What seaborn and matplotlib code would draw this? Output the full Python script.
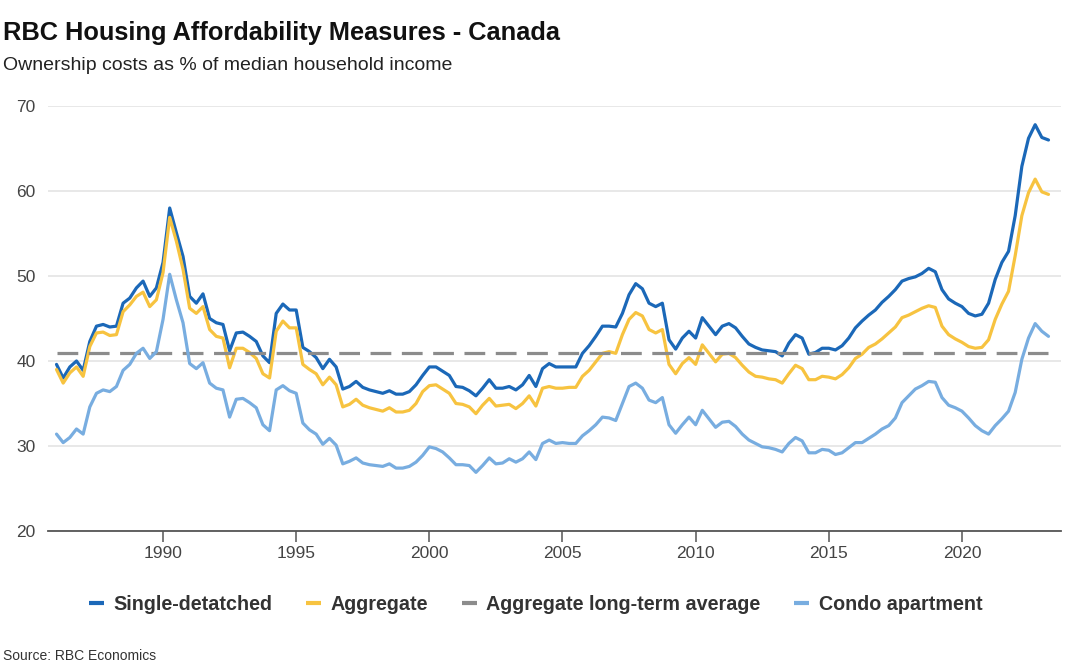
import numpy as np
import pandas as pd
import matplotlib
matplotlib.use("Agg")
import matplotlib.pyplot as plt
import seaborn as sns

# ---- data (quarterly, 1986Q1 - 2023Q2) ----
START_YEAR = 1986
single_detached = [
    39.6, 38.0, 39.3, 40.0, 38.9, 42.3, 44.1, 44.3, 44.0, 44.1, 46.8, 47.4, 48.6, 49.4, 47.6, 48.6,
    51.6, 58.0, 55.1, 52.3, 47.6, 46.8, 47.9, 45.0, 44.5, 44.3, 41.2, 43.3,
    43.4, 42.9, 42.3, 40.6, 39.8, 45.6, 46.7, 46.0, 46.0, 41.6, 41.1, 40.4, 39.1, 40.2, 39.3, 36.7,
    37.0, 37.6, 36.9, 36.6, 36.4, 36.2, 36.5, 36.1, 36.1, 36.4, 37.2, 38.3, 39.3, 39.3, 38.8,
    38.3, 37.0, 36.9, 36.5, 35.9, 36.8, 37.8, 36.8, 36.8, 37.0, 36.6, 37.2, 38.3, 37.0, 39.1, 39.7,
    39.3, 39.3, 39.3, 39.3, 40.9, 41.8, 42.9, 44.1, 44.1, 44.0, 45.6, 47.8, 49.1, 48.5,
    46.8, 46.4, 46.8, 42.5, 41.4, 42.7, 43.5, 42.7, 45.1, 44.1, 43.1, 44.1, 44.4, 43.9, 42.9, 42.0,
    41.6, 41.3, 41.2, 41.1, 40.6, 42.1, 43.1, 42.7, 40.8, 41.0, 41.5, 41.5, 41.3,
    41.8, 42.7, 43.9, 44.7, 45.4, 46.0, 46.9, 47.6, 48.4, 49.4, 49.7, 49.9, 50.3, 50.9, 50.5, 48.4,
    47.3, 46.8, 46.4, 45.6, 45.3, 45.5, 46.8, 49.6, 51.6, 52.9, 57.1, 62.9, 66.2, 67.8, 66.3, 66.0,
]
aggregate = [
    39.0, 37.4, 38.6, 39.3, 38.2, 41.7, 43.3, 43.4, 43.0, 43.1, 45.8, 46.6, 47.6, 48.1, 46.4, 47.2,
    50.4, 56.9, 54.1, 50.8, 46.2, 45.6, 46.4, 43.7, 42.9, 42.7, 39.2, 41.5,
    41.5, 41.0, 40.3, 38.5, 38.0, 43.5, 44.7, 43.9, 43.9, 39.6, 39.0, 38.5, 37.2, 38.1, 37.2, 34.6,
    34.9, 35.5, 34.8, 34.5, 34.3, 34.1, 34.5, 34.0, 34.0, 34.2, 35.0, 36.4, 37.1, 37.2, 36.7,
    36.2, 35.0, 34.9, 34.6, 33.8, 34.8, 35.6, 34.7, 34.8, 34.9, 34.4, 35.0, 35.9, 34.7, 36.8, 37.0,
    36.8, 36.8, 36.9, 36.9, 38.2, 38.9, 39.9, 40.9, 41.1, 40.9, 43.1, 44.9, 45.7, 45.3,
    43.7, 43.3, 43.7, 39.6, 38.5, 39.7, 40.4, 39.6, 41.9, 40.9, 39.9, 40.8, 40.9, 40.4, 39.5, 38.7,
    38.2, 38.1, 37.9, 37.8, 37.4, 38.5, 39.5, 39.1, 37.8, 37.8, 38.2, 38.1, 37.9,
    38.4, 39.2, 40.3, 40.8, 41.6, 42.0, 42.6, 43.3, 44.0, 45.1, 45.4, 45.8, 46.2, 46.5, 46.3, 44.1,
    43.1, 42.6, 42.2, 41.7, 41.5, 41.6, 42.5, 44.9, 46.7, 48.2, 52.4, 57.1, 59.8, 61.4, 59.9, 59.6,
]
condo = [
    31.4, 30.4, 31.0, 32.0, 31.4, 34.6, 36.2, 36.6, 36.4, 37.0, 38.9, 39.6, 40.9, 41.5, 40.3, 41.1,
    44.9, 50.2, 47.2, 44.5, 39.7, 39.1, 39.8, 37.4, 36.8, 36.6, 33.4, 35.5,
    35.6, 35.1, 34.5, 32.5, 31.8, 36.6, 37.1, 36.5, 36.2, 32.7, 31.9, 31.4, 30.2, 30.9, 30.1, 27.9,
    28.2, 28.6, 28.0, 27.8, 27.7, 27.6, 27.9, 27.4, 27.4, 27.6, 28.1, 28.9, 29.9, 29.7, 29.3,
    28.6, 27.8, 27.8, 27.7, 26.9, 27.7, 28.6, 27.9, 28.0, 28.5, 28.1, 28.5, 29.3, 28.4, 30.3, 30.7,
    30.3, 30.4, 30.3, 30.3, 31.2, 31.8, 32.5, 33.4, 33.3, 33.0, 35.0, 37.0, 37.4, 36.8,
    35.4, 35.1, 35.7, 32.5, 31.5, 32.5, 33.4, 32.5, 34.2, 33.2, 32.2, 32.8, 32.9, 32.3, 31.4, 30.7,
    30.3, 29.9, 29.8, 29.6, 29.3, 30.3, 31.0, 30.6, 29.2, 29.2, 29.6, 29.5, 29.0,
    29.2, 29.8, 30.4, 30.4, 30.9, 31.4, 32.0, 32.4, 33.3, 35.1, 35.9, 36.7, 37.1, 37.6, 37.5, 35.7,
    34.8, 34.5, 34.1, 33.3, 32.4, 31.8, 31.4, 32.4, 33.2, 34.1, 36.3, 40.2, 42.7, 44.4, 43.5, 42.9,
]
long_term_avg = 41.0

series_names = ["Single-detatched", "Aggregate", "Aggregate long-term average", "Condo apartment"]
x_ticks = [1990, 1995, 2000, 2005, 2010, 2015, 2020]
y_ticks = [20, 30, 40, 50, 60, 70]

title = "RBC Housing Affordability Measures - Canada"
subtitle = "Ownership costs as % of median household income"
source = "Source: RBC Economics"

# ---- build long-form frame ----
n = len(single_detached)
years = START_YEAR + np.arange(n) / 4.0
frames = [
    pd.DataFrame({"year": years, "value": single_detached, "series": series_names[0]}),
    pd.DataFrame({"year": years, "value": aggregate, "series": series_names[1]}),
    pd.DataFrame({"year": [years[0], years[-1]], "value": [long_term_avg, long_term_avg],
                  "series": series_names[2]}),
    pd.DataFrame({"year": years, "value": condo, "series": series_names[3]}),
]
df = pd.concat(frames, ignore_index=True)

palette = {
    series_names[0]: "#1b68b8",
    series_names[1]: "#f7c340",
    series_names[2]: "#8c8c8c",
    series_names[3]: "#78ade0",
}
dashes = {
    series_names[0]: "",
    series_names[1]: "",
    series_names[2]: (6.5, 3.3),
    series_names[3]: "",
}

sns.set_theme(style="white")
plt.rcParams["font.family"] = ["Liberation Sans", "DejaVu Sans"]

fig = plt.figure(figsize=(10.8, 6.72), dpi=100)
ax = fig.add_axes([48 / 1080, 1 - 531 / 672, (1061 - 48) / 1080, (531 - 106) / 672])

sns.lineplot(data=df, x="year", y="value", hue="series", style="series",
             hue_order=series_names, style_order=series_names,
             palette=palette, dashes=dashes, linewidth=2.3, ax=ax)

ax.set_xlim(1985.68, 2023.72)
ax.set_ylim(20, 70)
ax.set_xticks(x_ticks)
ax.set_yticks(y_ticks)
ax.set_xlabel("")
ax.set_ylabel("")
ax.grid(axis="y", color="#e6e6e6", linewidth=1.3)
ax.set_axisbelow(True)
for s in ["top", "right", "left"]:
    ax.spines[s].set_visible(False)
ax.spines["bottom"].set_color("#555555")
ax.spines["bottom"].set_linewidth(1.3)
ax.tick_params(axis="x", length=8, width=1.1, color="#555555", pad=3,
               labelsize=12.5, labelcolor="#444444", bottom=True)
ax.tick_params(axis="y", length=0, pad=9, labelsize=12.5, labelcolor="#444444")

sns.move_legend(ax, "center", bbox_to_anchor=(0.496, 1 - 604 / 672),
                bbox_transform=fig.transFigure, ncol=4, frameon=False, title=None,
                handlelength=0.75, handletextpad=0.5, columnspacing=1.7,
                prop={"weight": "bold", "size": 14.2})
leg = ax.get_legend()
for t in leg.get_texts():
    t.set_color("#333333")
for h in leg.legend_handles:
    h.set_linewidth(3)
    h.set_linestyle("-")
    h.set_solid_capstyle("butt")

fig.text(3 / 1080, 1 - 40 / 672, title, fontsize=18.3, fontweight="bold",
         color="#111111", ha="left", va="baseline")
fig.text(3 / 1080, 1 - 70 / 672, subtitle, fontsize=14, color="#222222",
         ha="left", va="baseline")
fig.text(3 / 1080, 1 - 660 / 672, source, fontsize=10, color="#333333",
         ha="left", va="baseline")

fig.savefig("out.png", dpi=100, facecolor="white")
